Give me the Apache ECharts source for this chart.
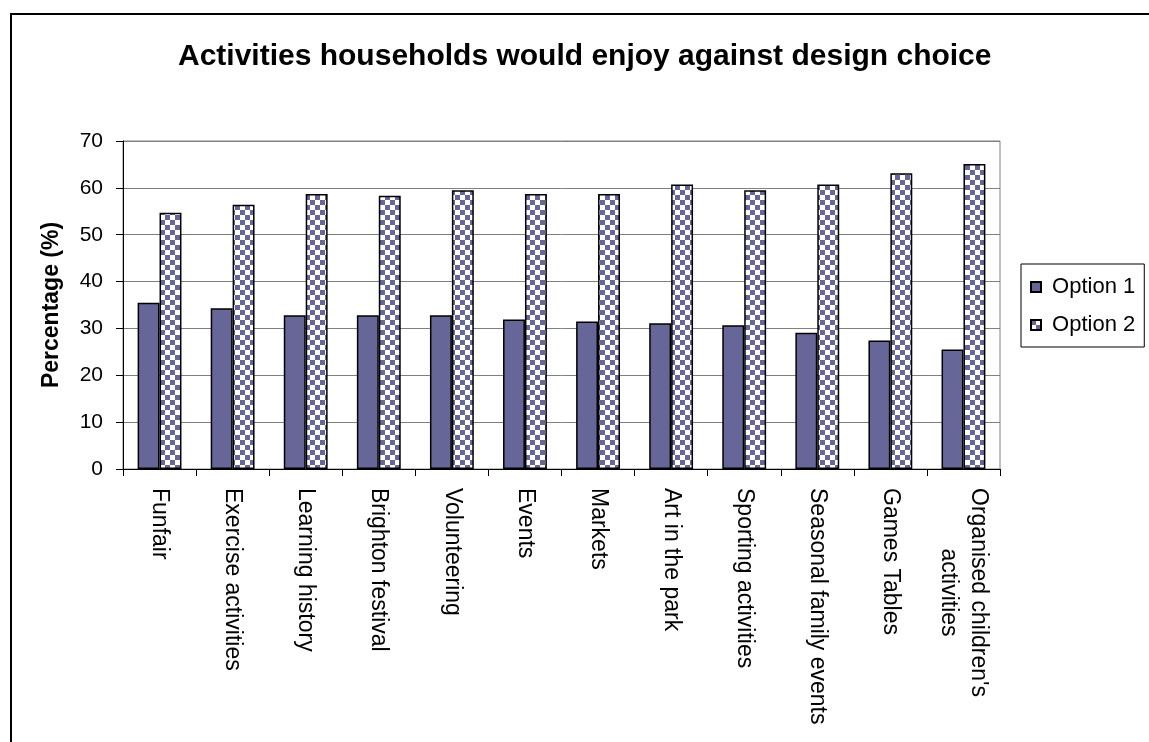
<!DOCTYPE html>
<html>
<head>
<meta charset="utf-8">
<script src="https://cdn.jsdelivr.net/npm/echarts@6/dist/echarts.min.js"></script>
<style>
html,body{margin:0;padding:0;background:#fff;}
#chart{width:1149px;height:742px;}
</style>
</head>
<body>
<div id="chart"></div>
<script>
var titleText = 'Activities households would enjoy against design choice';
var yAxisName = 'Percentage (%)';
var categories = ['Funfair', 'Exercise activities', 'Learning history', 'Brighton festival', 'Volunteering', 'Events', 'Markets', 'Art in the park', 'Sporting activities', 'Seasonal family events', 'Games Tables', "Organised children's\nactivities"];
var seriesNames = ['Option 1', 'Option 2'];
var option1 = [35.5, 34.3, 32.8, 32.8, 32.8, 31.9, 31.5, 31.1, 30.7, 29.1, 27.4, 25.5];
var option2 = [54.7, 56.4, 58.7, 58.3, 59.5, 58.7, 58.7, 60.7, 59.5, 60.7, 63.1, 65.1];
var yTicks = { min: 0, max: 70, interval: 10 };

var FONT = '"Liberation Sans", Arial, sans-serif';
var BLUE = '#666699';

var S = 5;
var pc = document.createElement('canvas');
pc.width = 2 * S; pc.height = 2 * S;
var ctx = pc.getContext('2d');
ctx.fillStyle = '#ffffff'; ctx.fillRect(0, 0, 2 * S, 2 * S);
ctx.fillStyle = BLUE; ctx.fillRect(0, 0, S, S); ctx.fillRect(S, S, S, S);

var chart = echarts.init(document.getElementById('chart'), null, { renderer: 'canvas' });
chart.setOption({
  backgroundColor: '#ffffff',
  animation: false,
  title: {
    text: titleText,
    left: 178,
    top: 42,
    padding: 0,
    textStyle: { fontFamily: FONT, fontSize: 30, fontWeight: 'bold', color: '#000' }
  },
  graphic: [{
    type: 'rect',
    shape: { x: 11, y: 14, width: 1300, height: 900 },
    style: { fill: 'none', stroke: '#000', lineWidth: 2 },
    silent: true
  }],
  legend: {
    orient: 'vertical',
    left: 1021,
    top: 264,
    padding: [12, 9, 11, 9],
    itemGap: 16,
    itemWidth: 10,
    itemHeight: 10,
    icon: 'rect',
    borderColor: '#000',
    borderWidth: 1,
    formatter: function (n) { return ' ' + n; },
    textStyle: { fontFamily: FONT, fontSize: 22, color: '#000' },
    data: seriesNames
  },
  grid: {
    left: 123, right: 149, top: 141, bottom: 273,
    show: true, borderColor: '#808080', borderWidth: 1, backgroundColor: 'transparent'
  },
  xAxis: {
    type: 'category',
    data: categories,
    axisLine: { lineStyle: { color: '#000', width: 1 } },
    axisTick: { show: true, length: 7, lineStyle: { color: '#000' } },
    axisLabel: {
      rotate: -90,
      margin: 19,
      interval: 0,
      color: '#000',
      fontFamily: FONT,
      fontSize: 23,
      formatter: function (v) { return v.split('\n').map(function (s) { return '{c|' + s + '}'; }).join('\n'); },
      rich: { c: { align: 'center', fontFamily: FONT, fontSize: 23, lineHeight: 30, color: '#000' } }
    }
  },
  yAxis: {
    type: 'value',
    min: yTicks.min, max: yTicks.max, interval: yTicks.interval,
    name: yAxisName,
    nameLocation: 'middle',
    nameGap: 60,
    nameTextStyle: { fontFamily: FONT, fontSize: 23, fontWeight: 'bold', color: '#000' },
    axisLine: { show: true, lineStyle: { color: '#000', width: 1 } },
    axisTick: { show: true, length: 7, lineStyle: { color: '#000' } },
    axisLabel: { margin: 20, color: '#000', fontFamily: FONT, fontSize: 21 },
    splitLine: { show: true, lineStyle: { color: '#808080', width: 1 } }
  },
  series: [
    {
      name: seriesNames[0], type: 'bar', data: option1,
      barGap: '0%', barCategoryGap: '40%',
      itemStyle: { color: BLUE, borderColor: '#000', borderWidth: 1.5 }
    },
    {
      name: seriesNames[1], type: 'bar', data: option2,
      barGap: '0%', barCategoryGap: '40%',
      itemStyle: { color: { image: pc, repeat: 'repeat' }, borderColor: '#000', borderWidth: 1.5 }
    }
  ]
});
</script>
</body>
</html>
